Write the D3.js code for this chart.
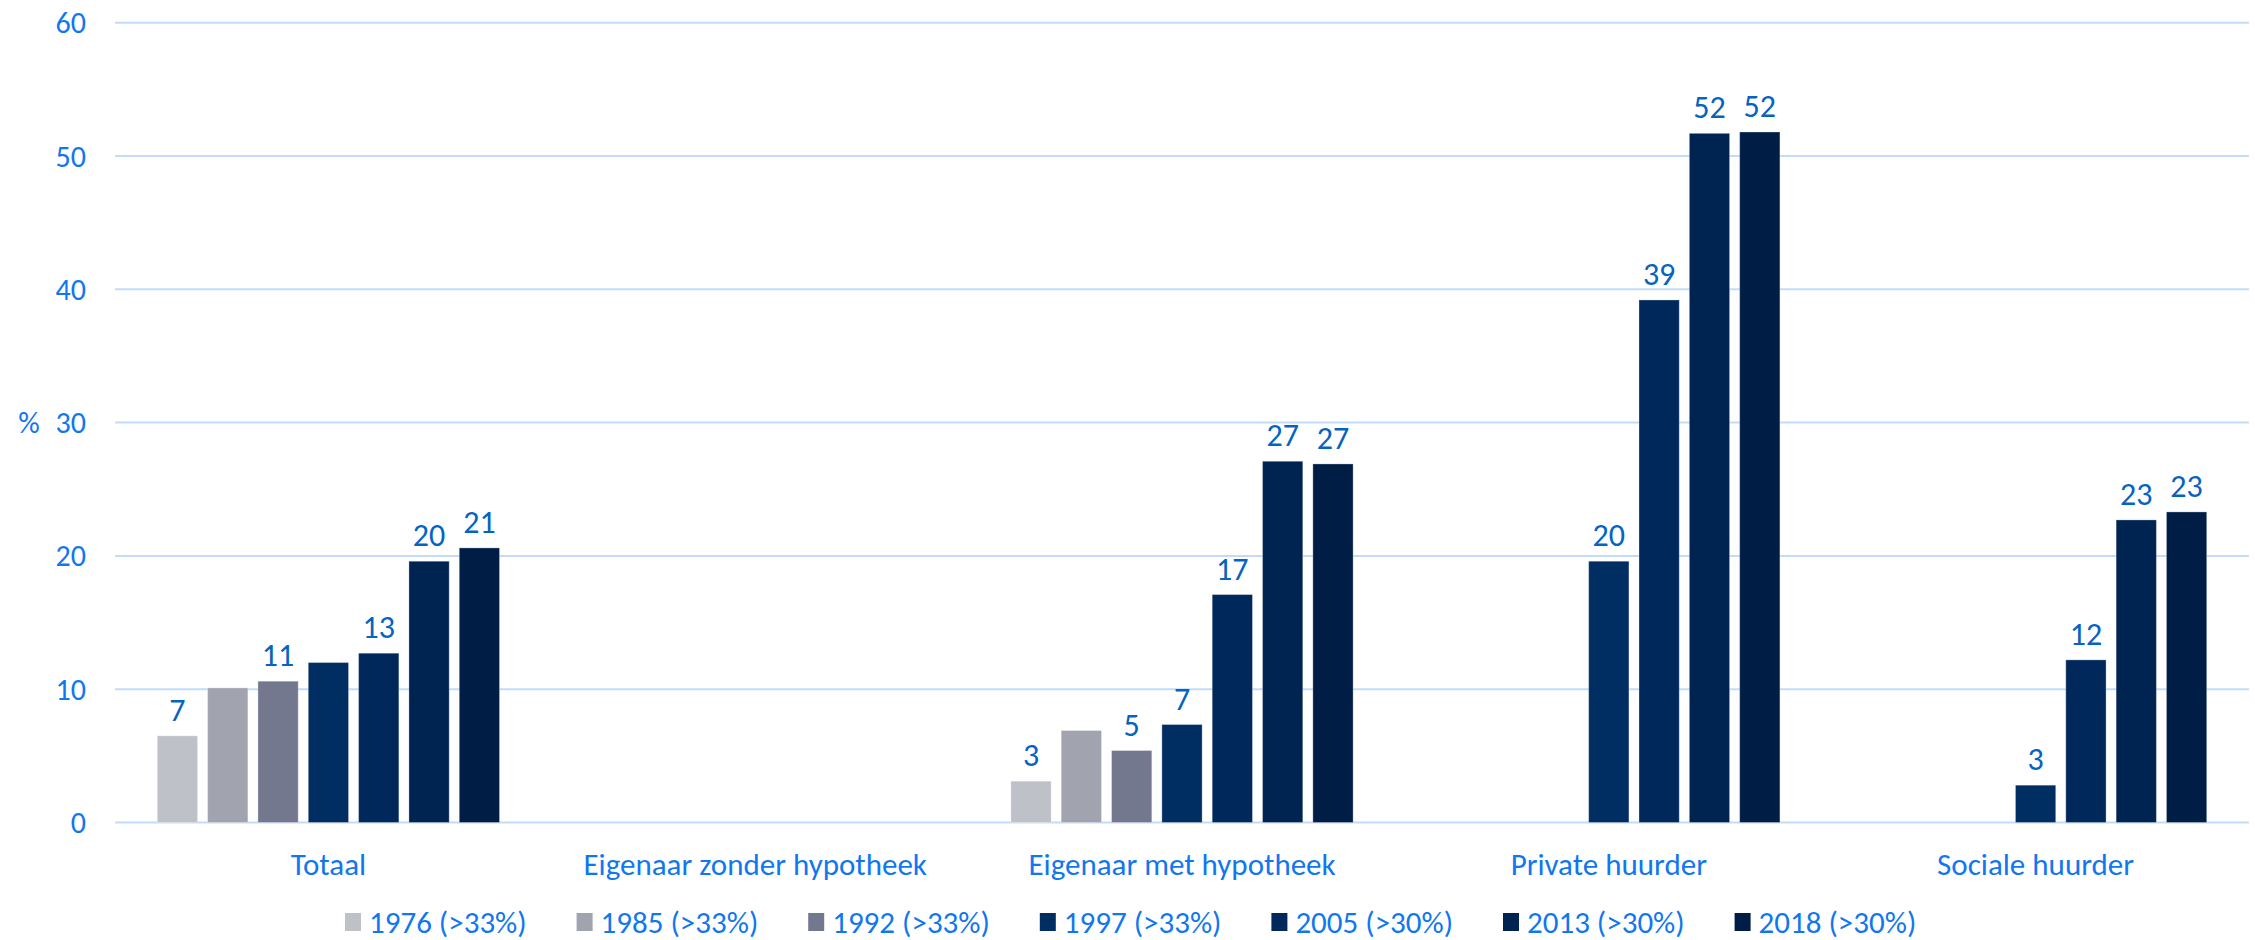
<html>
<head>
    <script src="https://d3js.org/d3.v7.min.js"></script>
    <style>
        body { margin: 0; background: #fff; }
        text { font-family: Carlito, Calibri, Lato, sans-serif; }
    </style>
</head>
<body></body>
<script>

    // data
    var categories = ["Totaal", "Eigenaar zonder hypotheek", "Eigenaar met hypotheek", "Private huurder", "Sociale huurder"];
    var years = ["1976 (>33%)", "1985 (>33%)", "1992 (>33%)", "1997 (>33%)", "2005 (>30%)", "2013 (>30%)", "2018 (>30%)"];
    var colors = ["#BFC1C9", "#A1A3AE", "#73788F", "#002D62", "#00285B", "#002451", "#001D45"];

    // values per category, one entry per year (null = no bar)
    var valTotaal = [6.5, 10.1, 10.6, 12.0, 12.7, 19.6, 20.6];
    var valZonder = [null, null, null, null, null, null, null];
    var valMet = [3.1, 6.9, 5.4, 7.35, 17.1, 27.1, 26.9];
    var valPrivate = [null, null, null, 19.6, 39.2, 51.7, 51.8];
    var valSociale = [null, null, null, 2.8, 12.2, 22.7, 23.3];

    // the data labels shown above the bars
    var lblTotaal = [7, null, 11, null, 13, 20, 21];
    var lblZonder = [null, null, null, null, null, null, null];
    var lblMet = [3, null, 5, 7, 17, 27, 27];
    var lblPrivate = [null, null, null, 20, 39, 52, 52];
    var lblSociale = [null, null, null, 3, 12, 23, 23];

    var yTicks = [0, 10, 20, 30, 40, 50, 60];

    var values = [valTotaal, valZonder, valMet, valPrivate, valSociale];
    var labels = [lblTotaal, lblZonder, lblMet, lblPrivate, lblSociale];

    var W = 2255, H = 940;
    var plotLeft = 115, plotRight = 2249, plotTop = 22.7, plotBottom = 822.5;

    var axisColor = "#1177EE";
    var labelColor = "#0563C1";

    var svg = d3.select("body")
        .append("svg")
        .attr("width", W)
        .attr("height", H);

    // scales
    var x0 = d3.scaleBand()
        .domain(categories)
        .range([plotLeft, plotRight]);

    var x1 = d3.scaleBand()
        .domain(years)
        .range([0, x0.bandwidth()])
        .paddingInner(0.2)
        .paddingOuter(0.84);

    var y = d3.scaleLinear()
        .domain([0, 60])
        .range([plotBottom, plotTop]);

    // gridlines
    svg.append("g")
        .selectAll("line")
        .data(yTicks)
        .enter()
        .append("line")
        .attr("x1", plotLeft)
        .attr("x2", plotRight)
        .attr("y1", d => y(d))
        .attr("y2", d => y(d))
        .attr("stroke", "#C2DBF8")
        .attr("stroke-width", 2);

    // y-axis tick labels
    svg.append("g")
        .selectAll("text")
        .data(yTicks)
        .enter()
        .append("text")
        .attr("x", 86)
        .attr("y", d => y(d))
        .attr("dy", "0.35em")
        .attr("text-anchor", "end")
        .attr("fill", axisColor)
        .style("font-size", "30px")
        .text(d => d);

    svg.append("text")
        .attr("x", 29)
        .attr("y", y(30))
        .attr("dy", "0.35em")
        .attr("text-anchor", "middle")
        .attr("fill", axisColor)
        .style("font-size", "30px")
        .text("%");

    // bars
    var groups = svg.append("g")
        .selectAll("g")
        .data(categories)
        .enter()
        .append("g")
        .attr("transform", d => "translate(" + x0(d) + ",0)");

    groups.selectAll("rect")
        .data((d, i) => years.map((yr, j) => ({ year: yr, idx: j, v: values[i][j] })).filter(e => e.v != null))
        .enter()
        .append("rect")
        .attr("x", d => x1(d.year))
        .attr("width", x1.bandwidth())
        .attr("y", d => y(d.v))
        .attr("height", d => y(0) - y(d.v))
        .attr("fill", d => colors[d.idx])
        .attr("stroke", "rgba(255,255,255,0.3)")
        .attr("stroke-width", 1);

    // data labels
    groups.selectAll("text")
        .data((d, i) => years.map((yr, j) => ({ year: yr, v: values[i][j], l: labels[i][j] })).filter(e => e.l != null))
        .enter()
        .append("text")
        .attr("x", d => x1(d.year) + x1.bandwidth() / 2)
        .attr("y", d => y(d.v) - 15)
        .attr("text-anchor", "middle")
        .attr("fill", labelColor)
        .style("font-size", "32px")
        .text(d => d.l);

    // category labels
    svg.append("g")
        .selectAll("text")
        .data(categories)
        .enter()
        .append("text")
        .attr("x", d => x0(d) + x0.bandwidth() / 2)
        .attr("y", 864)
        .attr("dy", "0.35em")
        .attr("text-anchor", "middle")
        .attr("fill", axisColor)
        .style("font-size", "31px")
        .text(d => d);

    // legend
    var legend = svg.append("g")
        .selectAll("g")
        .data(years)
        .enter()
        .append("g")
        .attr("transform", (d, i) => "translate(" + (345 + i * 231.6) + ",922)");

    legend.append("rect")
        .attr("x", 0)
        .attr("y", -9)
        .attr("width", 16)
        .attr("height", 18)
        .attr("fill", (d, i) => colors[i]);

    legend.append("text")
        .attr("x", 24)
        .attr("y", 0)
        .attr("dy", "0.35em")
        .attr("fill", axisColor)
        .style("font-size", "31px")
        .text(d => d);

</script>
</html>
